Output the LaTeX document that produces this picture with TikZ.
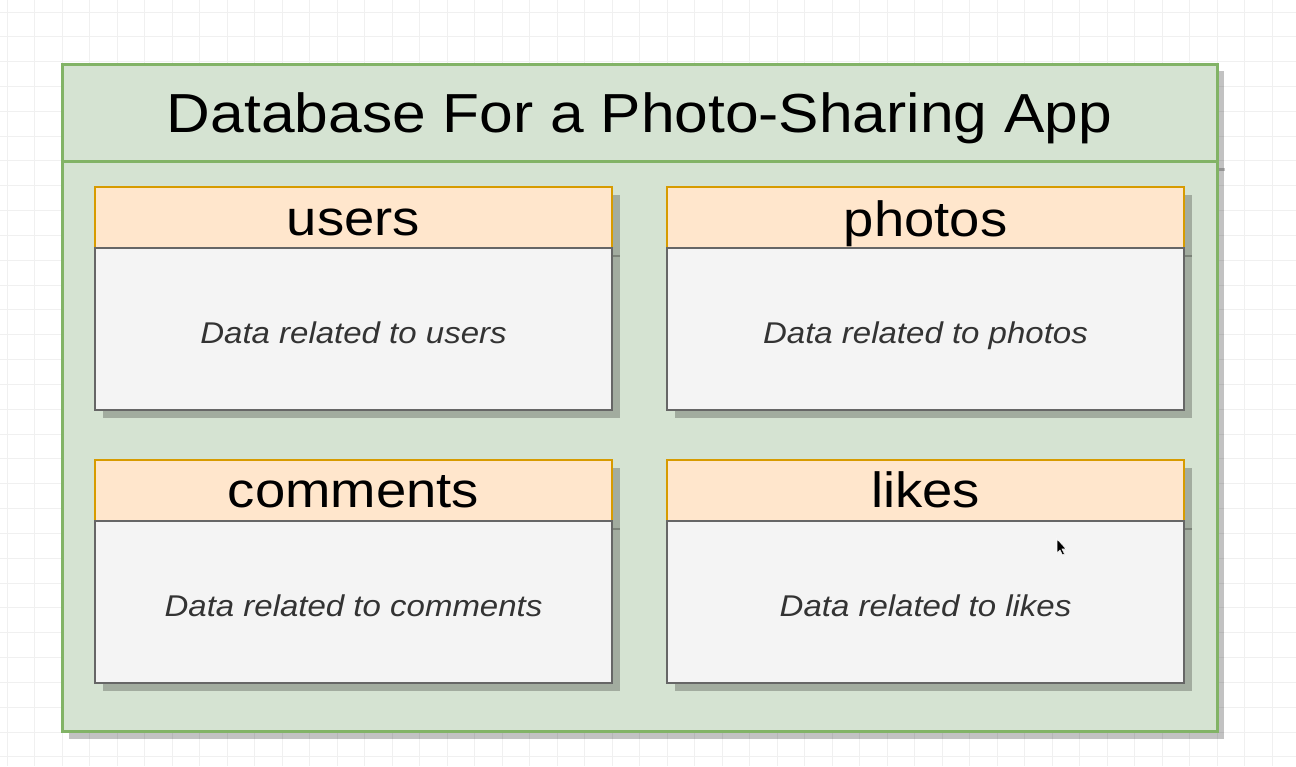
\documentclass[tikz,border=0pt]{standalone}
\usepackage{fontspec}
\setmainfont{Liberation Sans}[FakeStretch=1.1]
\usetikzlibrary{calc}
\definecolor{cgreen}{HTML}{82B366}
\definecolor{lgreen}{HTML}{D5E3D2}
\definecolor{corange}{HTML}{D79B00}
\definecolor{lorange}{HTML}{FFE6CC}
\definecolor{cgray}{HTML}{666666}
\definecolor{lgray}{HTML}{F4F4F4}
\definecolor{dgray}{HTML}{333333}
\definecolor{gridc}{HTML}{F0F0F0}
\begin{document}
\begin{tikzpicture}[x=1pt,y=-1pt,
  container/.style={draw=cgreen,fill=lgreen,line width=3pt,minimum width=1155pt,minimum height=667pt,inner sep=0pt,outer sep=0pt},
  thead/.style={draw=corange,fill=lorange,line width=2.5pt,minimum width=517pt,minimum height=61pt,inner sep=0pt,outer sep=0pt},
  tbody/.style={draw=cgray,fill=lgray,line width=2.5pt,minimum width=517pt,minimum height=162pt,inner sep=0pt,outer sep=0pt},
  shadowfill/.style={fill=black,fill opacity=0.24},
  shadowline/.style={draw=black,draw opacity=0.24,line width=2.5pt},
  maintitle/.style={font=\fontsize{55}{60}\selectfont,anchor=base,inner sep=0pt},
  tname/.style={font=\fontsize{49.5}{54}\selectfont,anchor=base,inner sep=0pt},
  tdesc/.style={font=\fontsize{30}{36}\selectfont\itshape,text=dgray,anchor=base,inner sep=0pt}]
\fill[white] (0,0) rectangle (1296,766);
\useasboundingbox (0,0) rectangle (1296,766);
% grid
\foreach \i in {0,...,46} \draw[gridc,line width=1pt] (7+27.5*\i,0) -- (7+27.5*\i,766);
\foreach \j in {0,...,30} \draw[gridc,line width=1pt] (0,12+24.83*\j) -- (1296,12+24.83*\j);
% container
\fill[shadowfill] (69,71) rectangle (1224,739);
\node[container] (db) at (639.5,397.5) {};
\coordinate (hl) at (0,161);
\draw[shadowline,line width=3pt] ($(db.east |- hl)+(1.5,8)$) -- ++(6,0);
\draw[cgreen,line width=3pt] (db.west |- hl) -- (db.east |- hl);
\node[maintitle] (title) at (639.5,132) {Database For a Photo-Sharing App};
% table shadows
\foreach \x/\y in {95/187,667/187,95/460,667/460}{
  \fill[shadowfill] (\x+8,\y+8) rectangle (\x+517+8,\y+223+8);
}
% tables
\node[thead] (usersH) at (353.5,217.5) {};
\node[tbody] (usersB) at (353.5,329) {};
\node[thead] (photosH) at (925.5,217.5) {};
\node[tbody] (photosB) at (925.5,329) {};
\node[thead] (commentsH) at (353.5,490.5) {};
\node[tbody] (commentsB) at (353.5,602) {};
\node[thead] (likesH) at (925.5,490.5) {};
\node[tbody] (likesB) at (925.5,602) {};
\foreach \n in {usersH,photosH,commentsH,likesH}{
  \draw[shadowline] ($(\n.south east)+(1.2,8)$) -- ++(7,0);
}
\node[tname] (usersT) at (353.5,235.5) {users};
\node[tname] (photosT) at (925.5,236) {photos};
\node[tname] (commentsT) at (353.5,507) {comments};
\node[tname] (likesT) at (925.5,507.5) {likes};
\node[tdesc] (usersD) at (353.5,343) {Data related to users};
\node[tdesc] (photosD) at (925.5,343) {Data related to photos};
\node[tdesc] (commentsD) at (353.5,616) {Data related to comments};
\node[tdesc] (likesD) at (925.5,616) {Data related to likes};
% mouse cursor
\coordinate (cur) at (1057,539);
\filldraw[fill=black,draw=white,line width=0.6pt] (cur) -- ++(0,14) -- ++(3,-3) -- ++(2.5,5) -- ++(2,-1) -- ++(-2.5,-5) -- ++(4.2,0) -- cycle;
\end{tikzpicture}
\end{document}
